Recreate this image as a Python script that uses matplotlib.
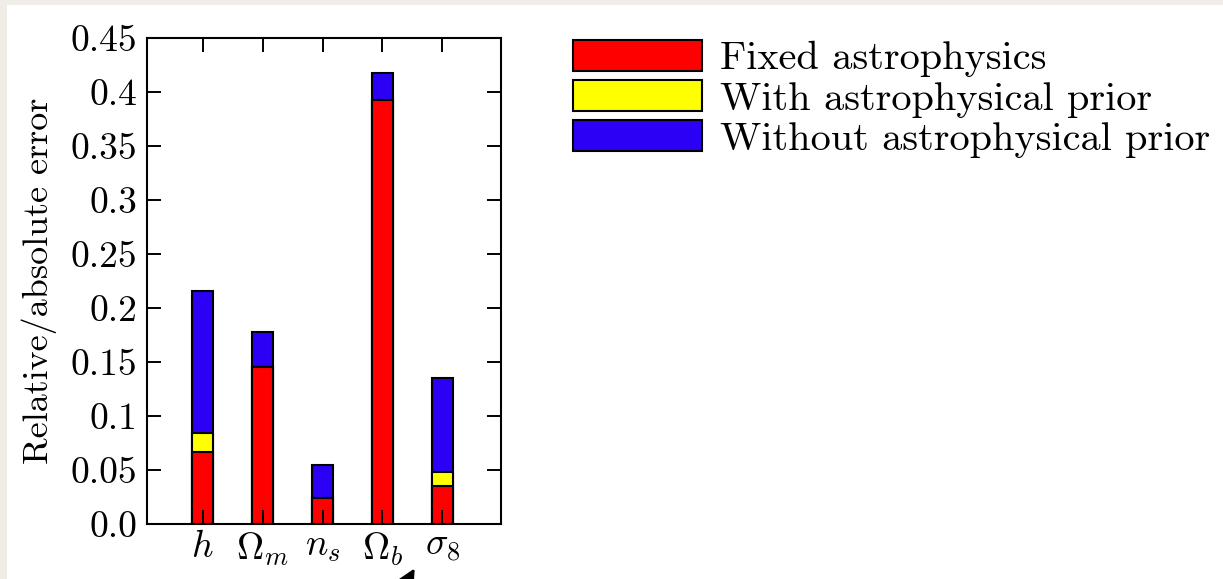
"""
Forecast errors on cosmological parameters for three treatments of the
astrophysical nuisance parameters.

Output:
    - out.png
"""

import matplotlib
matplotlib.use("Agg")
import matplotlib.pyplot as plt
from matplotlib.patches import Patch, Rectangle

plt.rcParams["font.family"] = "serif"
plt.rcParams["font.serif"] = ["cmr10"]
plt.rcParams["mathtext.fontset"] = "cm"
plt.rcParams["axes.unicode_minus"] = False

# parameters and errors (bars are overlaid, largest in the back)
params = [r"$h$", r"$\Omega_m$", r"$n_s$", r"$\Omega_b$", r"$\sigma_8$"]
err_fixed = [0.067, 0.145, 0.024, 0.393, 0.035]
err_with_prior = [0.084, 0.145, 0.024, 0.393, 0.048]
err_without_prior = [0.216, 0.178, 0.055, 0.418, 0.135]

series_labels = ["Fixed astrophysics", "With astrophysical prior",
                 "Without astrophysical prior"]
series_colors = ["#ff0000", "#ffff00", "#2b00f5"]

yticks = [0.0, 0.05, 0.1, 0.15, 0.2, 0.25, 0.3, 0.35, 0.4, 0.45]
ytick_labels = ["0.0", "0.05", "0.1", "0.15", "0.2", "0.25", "0.3", "0.35",
                "0.4", "0.45"]

W, H, DPI = 1223, 579, 100


def main():
    fig = plt.figure(figsize=(W / DPI, H / DPI), dpi=DPI)
    fig.patch.set_facecolor("#efede5")
    # white page area inside the thin beige border
    fig.add_artist(Rectangle((7 / W, 0), 1, (H - 5) / H, transform=fig.transFigure,
                             facecolor="white", edgecolor="none", zorder=-1))

    ax = fig.add_axes([147 / W, 1 - 524 / H, 354 / W, 486 / H])
    x = list(range(len(params)))
    width = 0.36

    # back to front: without prior, with prior, fixed
    for vals, color in zip([err_without_prior, err_with_prior, err_fixed],
                           series_colors[::-1]):
        ax.bar(x, vals, width=width, color=color, edgecolor="black",
               linewidth=1.5, zorder=2)

    ax.set_xlim(-0.93, 4.98)
    ax.set_ylim(0, 0.45)
    ax.set_xticks(x, params)
    ax.set_yticks(yticks, ytick_labels)
    ax.tick_params(axis="both", which="both", direction="in", top=True,
                   right=True, length=10, width=1.4, zorder=3)
    ax.tick_params(axis="y", pad=7, labelsize=27)
    ax.tick_params(axis="x", pad=5, labelsize=27)
    for s in ax.spines.values():
        s.set_linewidth(1.5)
        s.set_zorder(4)
    ax.set_axisbelow(False)

    ax.set_ylabel("Relative/absolute error", fontsize=26)
    ax.yaxis.set_label_coords(-0.254, 0.5)

    handles = [Patch(facecolor=c, edgecolor="black", linewidth=1.5)
               for c in series_colors]
    fig.legend(handles, series_labels, loc="upper left",
               bbox_to_anchor=(573 / W, 1 - 40 / H), frameon=False,
               fontsize=29, handlelength=3.2, handleheight=0.8,
               handletextpad=0.45, labelspacing=0.07, borderaxespad=0,
               borderpad=0)

    # pointer arrow coming up from below the plot
    ax.annotate("", xy=(416, H - 566), xycoords="figure pixels",
                xytext=(398, H - 598), textcoords="figure pixels",
                arrowprops=dict(arrowstyle="-|>", color="black", lw=2,
                                mutation_scale=25),
                annotation_clip=False)

    fig.savefig("out.png", dpi=DPI, facecolor=fig.get_facecolor())
    plt.close(fig)


if __name__ == "__main__":
    main()
